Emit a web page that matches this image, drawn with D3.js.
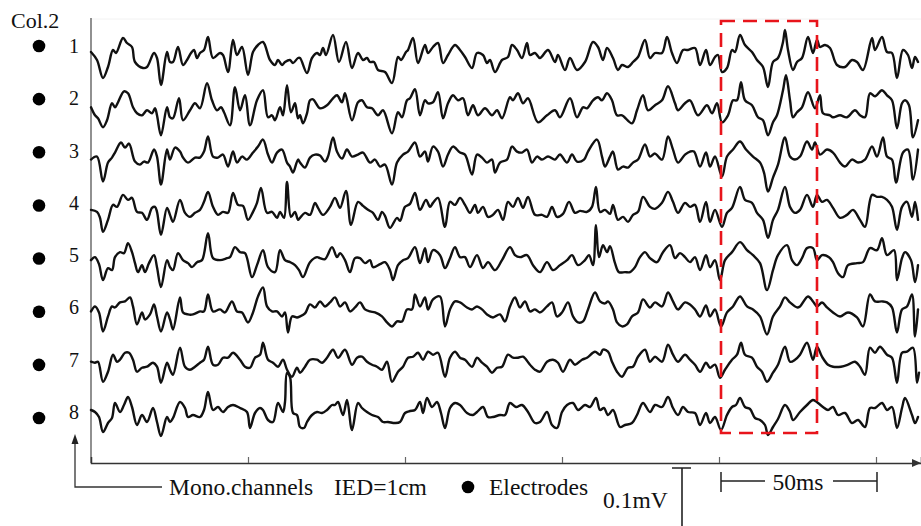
<!DOCTYPE html>
<html><head><meta charset="utf-8">
<script src="https://cdn.jsdelivr.net/npm/d3@7/dist/d3.min.js"></script>
<style>body{margin:0;background:#fff}svg{display:block}text{font-family:"Liberation Serif","Times New Roman",serif;fill:#111}</style>
</head><body>
<script>
// time in samples (157 samples = 50 ms), amplitude in display units (up = positive)
const channels = [1,2,3,4,5,6,7,8];
const tickSamples = [157,314,471,628,785];
const ch1 = [[0,4],[6,-4],[12,-22],[17,-11],[22,6],[25,3],[32,18],[36,13],[41,9],[44,-6],[52,-12],[56,-11],[63,3],[66,-2],[70,-29],[76,4],[79,-6],[82,-6],[87,9],[92,-9],[96,-4],[100,3],[103,6],[106,-2],[109,3],[113,6],[117,19],[122,-2],[129,3],[132,1],[137,-16],[142,16],[146,1],[151,9],[157,-19],[162,4],[167,11],[172,14],[179,-4],[184,-9],[187,-4],[191,-9],[194,-6],[199,-4],[202,-7],[207,-2],[209,-2],[216,-17],[221,-2],[226,3],[229,1],[232,8],[235,1],[242,21],[248,-6],[255,14],[261,-12],[267,3],[272,-4],[276,-2],[279,-6],[283,-6],[287,-14],[294,-16],[301,-27],[307,-1],[310,-4],[315,4],[317,6],[322,18],[327,-7],[334,11],[337,3],[342,9],[347,13],[352,-7],[357,1],[364,11],[369,6],[374,-1],[381,-12],[386,3],[392,1],[396,-7],[399,-4],[404,-16],[411,-4],[417,-1],[421,11],[426,6],[431,-2],[436,13],[439,1],[444,3],[449,-2],[457,6],[464,-6],[467,1],[474,-14],[479,-2],[486,-14],[494,-6],[502,14],[507,9],[512,-4],[516,8],[522,-2],[527,-14],[531,-9],[537,-11],[542,-6],[547,-1],[554,16],[559,-2],[564,3],[571,3],[576,19],[581,3],[586,-7],[592,6],[597,6],[604,8],[609,-9],[615,6],[619,-9],[624,-1],[627,1],[631,-16],[636,-12],[641,6],[644,4],[649,21],[654,11],[661,4],[666,-4],[672,-11],[677,-31],[682,-6],[687,-2],[692,14],[694,26],[697,6],[702,-14],[706,-6],[711,-2],[717,19],[722,3],[726,16],[729,9],[734,11],[739,8],[746,-9],[754,-11],[761,-4],[766,-6],[772,-14],[781,18],[784,6],[791,19],[796,4],[801,3],[806,-22],[812,6],[817,1],[821,-12],[824,-1],[827,-6]];
const ch2 = [[0,1],[4,-7],[7,-10],[12,-19],[16,-12],[21,5],[24,1],[27,6],[33,17],[37,15],[42,1],[46,-5],[51,-7],[56,-2],[61,-5],[64,0],[66,-7],[70,-27],[76,1],[79,-9],[82,-10],[88,10],[92,-12],[99,-2],[104,5],[109,0],[116,25],[121,8],[126,-2],[130,1],[133,-4],[139,-17],[144,21],[149,-2],[154,13],[159,-17],[166,8],[172,18],[177,-9],[181,-7],[184,-12],[189,1],[192,-7],[196,23],[200,-4],[204,5],[207,-10],[209,-7],[212,-15],[216,-5],[219,8],[222,9],[229,0],[236,3],[242,10],[246,13],[251,6],[254,15],[261,-12],[267,6],[271,8],[276,1],[281,0],[287,-7],[292,-2],[301,-25],[307,-4],[311,-9],[316,8],[319,10],[324,19],[329,-7],[334,8],[337,5],[342,6],[347,16],[352,-10],[357,5],[362,13],[367,8],[372,10],[377,-7],[382,3],[387,-7],[394,0],[401,-7],[406,-2],[411,-10],[419,11],[422,8],[427,15],[432,5],[437,10],[447,-14],[456,-7],[464,-2],[469,-9],[479,10],[486,-9],[492,1],[496,0],[502,8],[507,11],[511,8],[516,15],[521,8],[526,-7],[531,-7],[541,-15],[546,-2],[552,13],[557,-2],[564,3],[571,8],[577,22],[584,5],[587,-2],[594,5],[599,8],[607,-7],[616,3],[621,-5],[626,5],[631,-14],[637,-7],[642,8],[646,8],[650,26],[654,8],[661,3],[667,-9],[672,-12],[677,-27],[682,-14],[686,-7],[692,18],[695,33],[699,8],[702,-9],[706,-4],[711,1],[717,16],[724,0],[729,13],[732,-5],[739,-7],[742,-9],[749,-7],[756,-9],[764,-2],[769,-7],[774,-9],[779,15],[784,12],[791,18],[796,13],[801,8],[806,-20],[811,5],[814,8],[818,3],[822,-29],[827,-12]];
const ch3 = [[0,1],[6,4],[12,-21],[17,-2],[21,3],[24,8],[30,18],[34,13],[38,17],[44,-1],[49,-4],[53,-1],[57,-2],[63,11],[66,4],[70,-24],[76,11],[79,1],[84,13],[89,9],[92,3],[97,-2],[104,3],[109,3],[113,9],[117,24],[122,4],[127,3],[132,6],[137,-6],[142,9],[146,-2],[151,4],[156,1],[162,8],[167,14],[172,21],[177,6],[181,-2],[186,8],[191,11],[196,-2],[199,-6],[202,-12],[207,1],[209,-2],[214,-7],[219,3],[224,6],[229,5],[234,-1],[237,4],[242,23],[246,9],[251,2],[256,11],[261,4],[267,6],[272,8],[279,-2],[284,1],[289,-6],[294,-4],[301,-24],[306,-2],[312,6],[317,9],[324,18],[329,4],[334,9],[337,-1],[342,14],[347,9],[352,-6],[357,6],[362,14],[369,8],[374,6],[381,-14],[386,6],[391,3],[396,-2],[401,1],[404,-12],[409,-2],[416,1],[421,14],[426,9],[431,8],[436,11],[441,-2],[446,4],[451,1],[457,4],[464,1],[469,6],[476,-2],[481,6],[486,-1],[493,1],[497,9],[506,21],[511,4],[514,-6],[519,4],[522,9],[527,-9],[532,-6],[537,-7],[542,-2],[547,1],[554,16],[559,4],[564,7],[571,1],[577,24],[582,11],[587,-2],[594,6],[599,9],[603,9],[609,-6],[615,8],[619,-6],[624,4],[631,-16],[636,4],[642,11],[649,19],[655,11],[662,4],[669,-2],[673,-12],[677,-31],[682,-17],[687,-4],[694,23],[699,4],[704,1],[709,4],[716,19],[721,11],[724,18],[729,6],[736,11],[742,8],[749,-2],[754,-6],[761,1],[767,-2],[774,1],[781,14],[786,4],[792,23],[796,4],[801,1],[805,-22],[812,8],[817,11],[822,-19],[827,11]];
const ch4 = [[0,3],[6,1],[9,-5],[12,-19],[17,-7],[22,8],[26,6],[32,18],[37,13],[41,15],[46,1],[51,0],[56,-7],[61,5],[64,6],[66,1],[70,-22],[76,5],[79,-2],[82,-9],[89,13],[94,0],[99,-4],[104,0],[109,3],[113,11],[117,21],[122,6],[127,-2],[132,1],[137,0],[142,20],[147,8],[152,7],[157,-7],[162,1],[166,10],[170,25],[176,0],[181,1],[186,-5],[189,1],[193,-5],[196,31],[200,-4],[204,1],[207,-7],[209,-5],[214,0],[219,-2],[224,10],[227,5],[232,-2],[239,6],[244,15],[249,5],[255,22],[260,-12],[267,11],[272,7],[277,3],[282,0],[287,-7],[291,1],[294,-3],[299,-15],[306,-5],[309,-8],[314,6],[319,9],[324,20],[329,3],[335,13],[339,6],[342,10],[347,15],[354,-14],[359,11],[364,8],[369,15],[374,8],[379,0],[384,8],[387,0],[392,6],[397,-4],[402,-2],[407,3],[412,-7],[417,11],[422,6],[427,15],[432,5],[437,16],[444,-2],[451,-2],[456,-4],[461,6],[466,-4],[472,-1],[478,11],[484,0],[489,2],[496,1],[501,6],[505,26],[509,1],[514,3],[519,-1],[522,8],[527,-7],[532,-4],[537,-9],[542,-2],[547,1],[552,16],[559,6],[564,4],[571,10],[577,21],[582,11],[587,0],[594,10],[599,6],[604,8],[609,-9],[615,11],[619,-9],[624,3],[631,-14],[636,0],[641,5],[649,26],[654,13],[661,10],[666,0],[672,-7],[677,-25],[682,-7],[687,3],[694,26],[699,6],[704,0],[709,3],[716,18],[722,6],[726,18],[731,11],[736,13],[742,5],[749,-5],[756,-2],[762,3],[769,-7],[774,-14],[781,18],[786,16],[791,16],[796,13],[801,6],[806,-17],[811,6],[816,11],[821,-4],[824,11],[827,-7]];
const ch5 = [[0,5],[4,8],[8,1],[12,-15],[17,-3],[21,-5],[24,8],[29,13],[33,12],[37,22],[41,13],[44,2],[47,-7],[51,0],[54,-7],[58,2],[63,10],[66,-2],[70,-22],[76,5],[79,-2],[82,-5],[87,12],[92,5],[97,2],[101,-2],[106,3],[111,5],[117,32],[122,7],[129,5],[136,7],[139,8],[144,18],[149,13],[154,12],[161,-12],[166,0],[172,15],[177,-2],[184,-7],[189,15],[194,5],[199,3],[204,0],[208,-5],[212,-12],[219,3],[226,8],[229,7],[234,6],[241,18],[246,8],[249,12],[254,5],[259,-7],[264,7],[269,7],[274,2],[279,5],[282,-2],[289,1],[294,3],[299,-5],[302,-15],[307,0],[312,5],[317,7],[324,18],[329,2],[334,17],[337,3],[342,15],[349,10],[354,-3],[359,7],[364,18],[369,8],[374,8],[379,-2],[386,10],[392,-3],[397,3],[404,-5],[411,5],[419,18],[424,10],[429,8],[436,10],[442,0],[449,-7],[456,3],[462,-5],[469,0],[476,5],[481,10],[487,0],[494,5],[498,10],[502,0],[505,40],[508,8],[512,20],[516,13],[519,19],[524,2],[528,-7],[534,-7],[539,-7],[544,-2],[549,8],[554,13],[559,7],[566,3],[572,13],[579,20],[584,7],[589,12],[594,8],[599,3],[604,8],[609,-5],[615,10],[619,-2],[624,5],[629,-15],[634,5],[641,13],[649,23],[656,15],[662,10],[669,2],[676,-25],[682,-5],[687,10],[696,20],[701,5],[706,0],[711,7],[716,17],[722,17],[726,5],[731,10],[738,8],[742,3],[747,-8],[752,-12],[757,0],[766,2],[772,3],[779,17],[786,15],[791,27],[796,10],[803,15],[806,-15],[811,7],[814,13],[820,5],[824,-17],[827,0]];
const ch6 = [[0,6],[4,11],[8,5],[12,-14],[17,1],[21,11],[24,10],[29,15],[34,16],[39,20],[42,11],[46,-7],[51,5],[54,-2],[59,3],[63,13],[66,1],[70,-14],[76,5],[79,-2],[82,-12],[89,20],[92,5],[97,3],[102,3],[109,6],[113,6],[117,23],[122,6],[129,8],[134,5],[141,16],[146,6],[151,5],[157,-5],[162,5],[167,21],[172,30],[176,11],[181,6],[186,6],[191,1],[194,5],[197,-15],[201,1],[206,0],[209,1],[214,4],[219,13],[224,10],[229,16],[234,11],[239,15],[244,20],[249,11],[254,15],[259,6],[264,10],[269,15],[274,8],[279,6],[284,5],[291,1],[296,-5],[301,-9],[306,-4],[311,-4],[316,8],[321,8],[324,23],[329,11],[334,20],[337,8],[342,18],[349,21],[354,-9],[359,8],[364,16],[369,15],[376,10],[381,8],[386,11],[391,8],[396,3],[402,0],[409,3],[414,-4],[419,11],[424,20],[429,10],[434,16],[439,6],[444,8],[449,5],[456,11],[461,15],[466,1],[471,5],[477,15],[482,1],[487,-5],[492,-4],[497,8],[504,25],[509,16],[514,14],[517,16],[522,8],[526,-5],[531,-9],[536,-7],[541,1],[547,5],[552,18],[559,10],[564,15],[571,11],[577,25],[582,16],[587,8],[594,15],[599,13],[604,8],[609,1],[615,12],[619,1],[624,8],[630,-9],[636,5],[642,11],[649,21],[656,11],[662,8],[669,1],[676,-17],[682,1],[689,11],[694,20],[699,15],[706,10],[709,11],[717,21],[722,16],[726,11],[731,15],[736,10],[742,5],[749,1],[757,5],[766,0],[772,-9],[779,23],[784,16],[791,16],[796,15],[801,10],[806,-15],[811,8],[816,11],[821,23],[824,-19],[827,8]];
const ch7 = [[0,8],[4,7],[7,8],[12,-12],[17,-2],[22,15],[26,8],[29,10],[34,17],[38,17],[42,10],[46,-2],[51,2],[56,3],[62,7],[66,3],[70,-13],[76,7],[79,0],[82,-5],[89,22],[94,3],[99,0],[104,3],[109,7],[113,10],[117,23],[122,5],[127,5],[132,12],[137,12],[142,17],[149,10],[154,3],[159,2],[164,12],[169,15],[172,27],[177,10],[182,7],[187,3],[192,10],[196,0],[201,-7],[206,2],[209,-3],[214,3],[219,10],[226,10],[231,7],[236,12],[242,20],[247,12],[254,20],[261,5],[266,12],[271,13],[276,8],[281,5],[286,3],[291,0],[296,8],[301,-12],[307,-2],[312,3],[317,12],[322,13],[327,17],[332,10],[337,18],[342,15],[347,17],[354,-7],[359,12],[364,18],[369,12],[374,10],[381,3],[386,12],[391,7],[396,3],[401,-3],[406,2],[411,3],[417,15],[422,12],[427,12],[432,13],[439,5],[444,0],[449,-2],[456,8],[462,10],[467,7],[472,-2],[479,10],[484,5],[491,10],[496,12],[504,18],[509,15],[512,20],[517,18],[521,8],[526,-2],[531,-7],[537,2],[542,3],[547,13],[554,20],[559,8],[564,13],[571,8],[577,25],[582,15],[587,8],[594,15],[599,10],[604,5],[609,-2],[615,7],[619,2],[624,5],[629,-8],[634,0],[641,10],[646,15],[650,27],[654,15],[661,12],[666,3],[671,-2],[676,-12],[682,-3],[687,5],[694,23],[699,8],[704,10],[709,15],[716,27],[722,10],[726,23],[731,13],[737,5],[742,3],[750,3],[757,5],[764,8],[769,3],[774,-5],[779,22],[784,17],[789,23],[796,15],[801,12],[806,-13],[811,17],[816,18],[822,22],[826,-13],[828,-3]];
const ch8 = [[0,12],[4,10],[8,5],[12,-10],[17,-1],[21,4],[24,19],[29,10],[33,17],[37,25],[41,15],[46,-3],[51,7],[56,0],[62,14],[66,0],[70,-14],[76,5],[79,0],[82,4],[89,20],[94,14],[97,5],[102,7],[109,5],[113,12],[117,30],[122,12],[127,15],[132,10],[137,15],[142,17],[149,14],[156,10],[159,-6],[164,9],[169,14],[172,12],[177,2],[182,0],[187,19],[192,10],[194,20],[196,49],[199,45],[202,9],[206,7],[209,-5],[213,-6],[216,0],[221,7],[226,10],[231,9],[236,12],[241,17],[244,17],[247,20],[252,7],[256,22],[261,-8],[267,19],[271,14],[276,10],[281,7],[287,5],[292,0],[297,0],[304,-1],[309,0],[314,9],[319,11],[324,12],[329,20],[332,9],[336,24],[341,15],[346,20],[350,9],[354,-6],[359,14],[364,19],[369,17],[376,9],[382,7],[386,10],[392,15],[397,5],[402,5],[409,7],[414,7],[419,19],[425,15],[431,17],[437,10],[444,-1],[449,0],[456,10],[461,-3],[466,-6],[471,10],[476,17],[482,19],[487,12],[494,17],[499,15],[505,24],[509,12],[513,14],[517,7],[522,12],[529,-5],[534,-3],[541,-1],[546,7],[552,19],[559,10],[564,17],[571,15],[577,25],[582,14],[587,7],[592,15],[597,10],[604,9],[609,-3],[615,9],[619,-1],[624,5],[630,-8],[636,7],[641,15],[645,17],[649,24],[654,15],[659,13],[664,4],[669,2],[674,-3],[677,-13],[682,-5],[687,3],[694,17],[699,10],[702,2],[709,10],[716,17],[722,22],[727,19],[732,15],[737,12],[742,15],[747,7],[754,9],[761,-1],[767,2],[774,-5],[779,14],[784,14],[791,19],[796,12],[801,15],[806,-6],[811,14],[814,24],[821,7],[824,-1],[827,5]];
const series = [ch1,ch2,ch3,ch4,ch5,ch6,ch7,ch8];
const highlight = [628, 726]; // samples of the dashed window
const legendTexts = {col:"Col.2", mono:"Mono.channels", ied:"IED=1cm", elec:"Electrodes", volt:"0.1mV", time:"50ms"};

const W=921,H=526;
const svg=d3.select("body").append("svg").attr("width",W).attr("height",H);
const x=d3.scaleLinear().domain([0,830]).range([91,921]);
const ch=d3.scalePoint().domain(channels).range([56,422]);
const dotY=d3.scalePoint().domain(channels).range([46,418]);
const labY=d3.scalePoint().domain(channels).range([53,419]);
const amp=d3.scaleLinear().domain([0,1]).range([0,1]);

svg.append("line").attr("x1",91).attr("x2",921).attr("y1",19).attr("y2",19).attr("stroke","#f2f2f2");
svg.append("line").attr("x1",91).attr("x2",91).attr("y1",18).attr("y2",463).attr("stroke","#555").attr("stroke-width",1.3);
const xAxis=d3.axisBottom(x).tickValues(tickSamples).tickSize(-6).tickFormat("");
const gx=svg.append("g").attr("transform","translate(0,463)").call(xAxis);
gx.select(".domain").attr("stroke","#333").attr("stroke-width",1.5);
gx.selectAll(".tick line").attr("stroke","#666").attr("stroke-width",1.2);
svg.append("path").attr("d","M921,463 L912,459 L912,467 Z").attr("fill","#333");

const line=d3.line().x(d=>x(d[0])).curve(d3.curveCatmullRom.alpha(0.5));
series.forEach((s,i)=>{
  const base=ch(channels[i]);
  svg.append("path").datum(s)
    .attr("d",line.y(d=>base-amp(d[1])))
    .attr("fill","none").attr("stroke","#111").attr("stroke-width",2.4)
    .attr("stroke-linejoin","round").attr("stroke-linecap","round");
});

channels.forEach(c=>{
  svg.append("circle").attr("cx",39).attr("cy",dotY(c)).attr("r",6.3).attr("fill","#000");
  svg.append("text").attr("x",74).attr("y",labY(c)).attr("text-anchor","middle").attr("font-size",20).text(c);
});
svg.append("text").attr("x",11).attr("y",28).attr("font-size",22).text(legendTexts.col);

svg.append("rect").attr("x",x(highlight[0])+2).attr("y",21).attr("width",x(highlight[1])-x(highlight[0])-2).attr("height",412)
  .attr("fill","none").attr("stroke","#e8141b").attr("stroke-width",2.6).attr("stroke-dasharray","14,8");

svg.append("path").attr("d","M162,487 H75 V440").attr("fill","none").attr("stroke","#333").attr("stroke-width",1.3);
svg.append("path").attr("d","M75,434 L71.5,444 L78.5,444 Z").attr("fill","#222");
svg.append("text").attr("x",169).attr("y",495).attr("font-size",23.5).text(legendTexts.mono);
svg.append("text").attr("x",334).attr("y",495).attr("font-size",23.5).text(legendTexts.ied);
svg.append("circle").attr("cx",468).attr("cy",487).attr("r",6.3).attr("fill","#000");
svg.append("text").attr("x",489).attr("y",495).attr("font-size",23.5).text(legendTexts.elec);
svg.append("text").attr("x",603).attr("y",508).attr("font-size",23.5).text(legendTexts.volt);
svg.append("path").attr("d","M672,468 H691 M682,468 V530").attr("stroke","#222").attr("stroke-width",1.6);
const t0=x(tickSamples[3]), t1=x(tickSamples[4]);
svg.append("path").attr("d",`M${t0+2},472 V492 M${t0+2},481 H765 M833,481 H${t1+1} M${t1+1},472 V492`).attr("stroke","#222").attr("stroke-width",1.5).attr("fill","none");
svg.append("text").attr("x",798).attr("y",490).attr("text-anchor","middle").attr("font-size",23.5).text(legendTexts.time);
</script>
</body></html>
